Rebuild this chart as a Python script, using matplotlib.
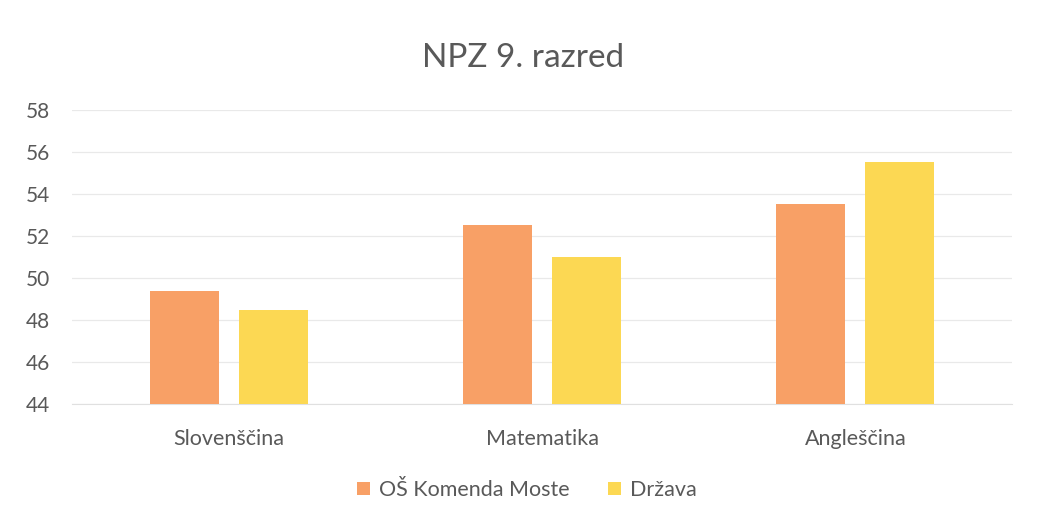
import numpy as np
import matplotlib
matplotlib.use("Agg")
import matplotlib.pyplot as plt

plt.rcParams['font.family'] = ['Lato', 'DejaVu Sans']

categories = ["Slovenščina", "Matematika", "Angleščina"]
series_names = ["OŠ Komenda Moste", "Država"]
school = [49.4, 52.5, 53.5]
state = [48.5, 51.0, 55.5]
yticks = [44, 46, 48, 50, 52, 54, 56, 58]

colors = ["#F8A066", "#FCD853"]
text_col = "#595959"

fig = plt.figure(figsize=(10.4, 5.25), dpi=100)
ax = fig.add_axes([72/1040, 1 - 404/525, 940/1040, 294/525])

x = np.arange(len(categories))
w = 0.22
off = 0.142
ax.bar(x - off, np.array(school) - 44, w, bottom=44, color=colors[0], label=series_names[0], zorder=3)
ax.bar(x + off, np.array(state) - 44, w, bottom=44, color=colors[1], label=series_names[1], zorder=3)

ax.set_xlim(-0.5, 2.5)
ax.set_ylim(44, 58)
ax.set_yticks(yticks)
ax.set_xticks(x)
ax.set_xticklabels(categories)
ax.tick_params(axis='both', length=0, colors=text_col)
ax.tick_params(axis='y', pad=16, labelsize=15)
ax.tick_params(axis='x', pad=18, labelsize=15.5)
ax.grid(axis='y', color="#e9e9e9", linewidth=0.9, zorder=0)
for s in ['top', 'right', 'left']:
    ax.spines[s].set_visible(False)
ax.spines['bottom'].set_color("#e0e0e0")

fig.text(523/1040, 1 - 58/525, "NPZ 9. razred", ha='center', va='center', fontsize=24, color=text_col)

leg = fig.legend(loc='center', bbox_to_anchor=(527/1040, 1 - 490/525), ncol=2, frameon=False,
                 fontsize=15.5, handlelength=0.6, handleheight=0.6, columnspacing=1.8, handletextpad=0.4)
for t in leg.get_texts():
    t.set_color(text_col)

fig.savefig("out.png", dpi=100)
